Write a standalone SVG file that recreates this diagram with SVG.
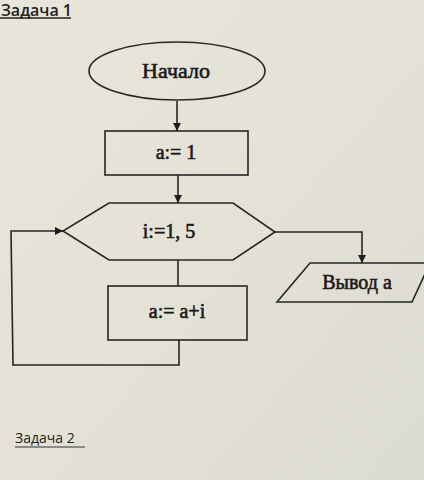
<svg xmlns="http://www.w3.org/2000/svg" width="424" height="480" viewBox="0 0 424 480">
<defs>
<linearGradient id="bg" x1="0" y1="0" x2="1" y2="1">
<stop offset="0" stop-color="#e8e6dc"/>
<stop offset="0.5" stop-color="#e4e2d6"/>
<stop offset="1" stop-color="#dcdbd2"/>
</linearGradient>
<marker id="arr" viewBox="0 0 10 10" refX="10" refY="5" markerWidth="8" markerHeight="8" markerUnits="userSpaceOnUse" orient="auto">
<path d="M0,0 L10,5 L0,10 Z" fill="#1e1e1e"/>
</marker>
</defs>
<style>
.shape{fill:none;stroke:#262626;stroke-width:1.6}
.conn{fill:none;stroke:#262626;stroke-width:1.6}
.t{font-family:"Liberation Serif","Times New Roman",serif;fill:#1a1a1a;stroke:#1a1a1a;stroke-width:0.6;text-anchor:middle}
.h{font-family:"Open Sans","Noto Sans",sans-serif;fill:#222}
</style>
<rect width="424" height="480" fill="url(#bg)"/>

<g id="title1">
<text class="h" x="1" y="16" font-size="16" font-weight="600">Задача 1</text>
<line x1="0" y1="18" x2="71" y2="18" stroke="#222" stroke-width="1.5"/>
</g>

<g id="start">
<ellipse class="shape" cx="177" cy="71" rx="88" ry="29"/>
<text class="t" x="176" y="78" font-size="22">Начало</text>
</g>

<g id="init">
<rect class="shape" x="105" y="131" width="143" height="44"/>
<text class="t" x="176" y="159" font-size="20">a:= 1</text>
</g>

<g id="loop">
<polygon class="shape" points="109,203 233,203 275,232 233,260 109,260 63,231"/>
<text class="t" x="169" y="238" font-size="20">i:=1, 5</text>
</g>

<g id="body">
<rect class="shape" x="108" y="286" width="139" height="54"/>
<text class="t" x="177" y="318" font-size="20">a:= a+i</text>
</g>

<g id="output">
<polygon class="shape" points="310,263 430,263 412,302 277,302"/>
<text class="t" x="357" y="289" font-size="20">Вывод a</text>
</g>

<g id="connectors">
<line class="conn" x1="177" y1="101" x2="177" y2="131" marker-end="url(#arr)"/>
<line class="conn" x1="178" y1="175" x2="178" y2="203" marker-end="url(#arr)"/>
<line class="conn" x1="178" y1="260" x2="178" y2="286"/>
<polyline class="conn" points="179,340 179,365 13,365 11,231 63,231" marker-end="url(#arr)"/>
<polyline class="conn" points="275,232 362,232 362,263" marker-end="url(#arr)"/>
</g>

<g id="title2">
<text class="h" x="15" y="443" font-size="14" fill="#333">Задача 2</text>
<line x1="15" y1="447" x2="85" y2="447" stroke="#333" stroke-width="1.2"/>
</g>
</svg>
